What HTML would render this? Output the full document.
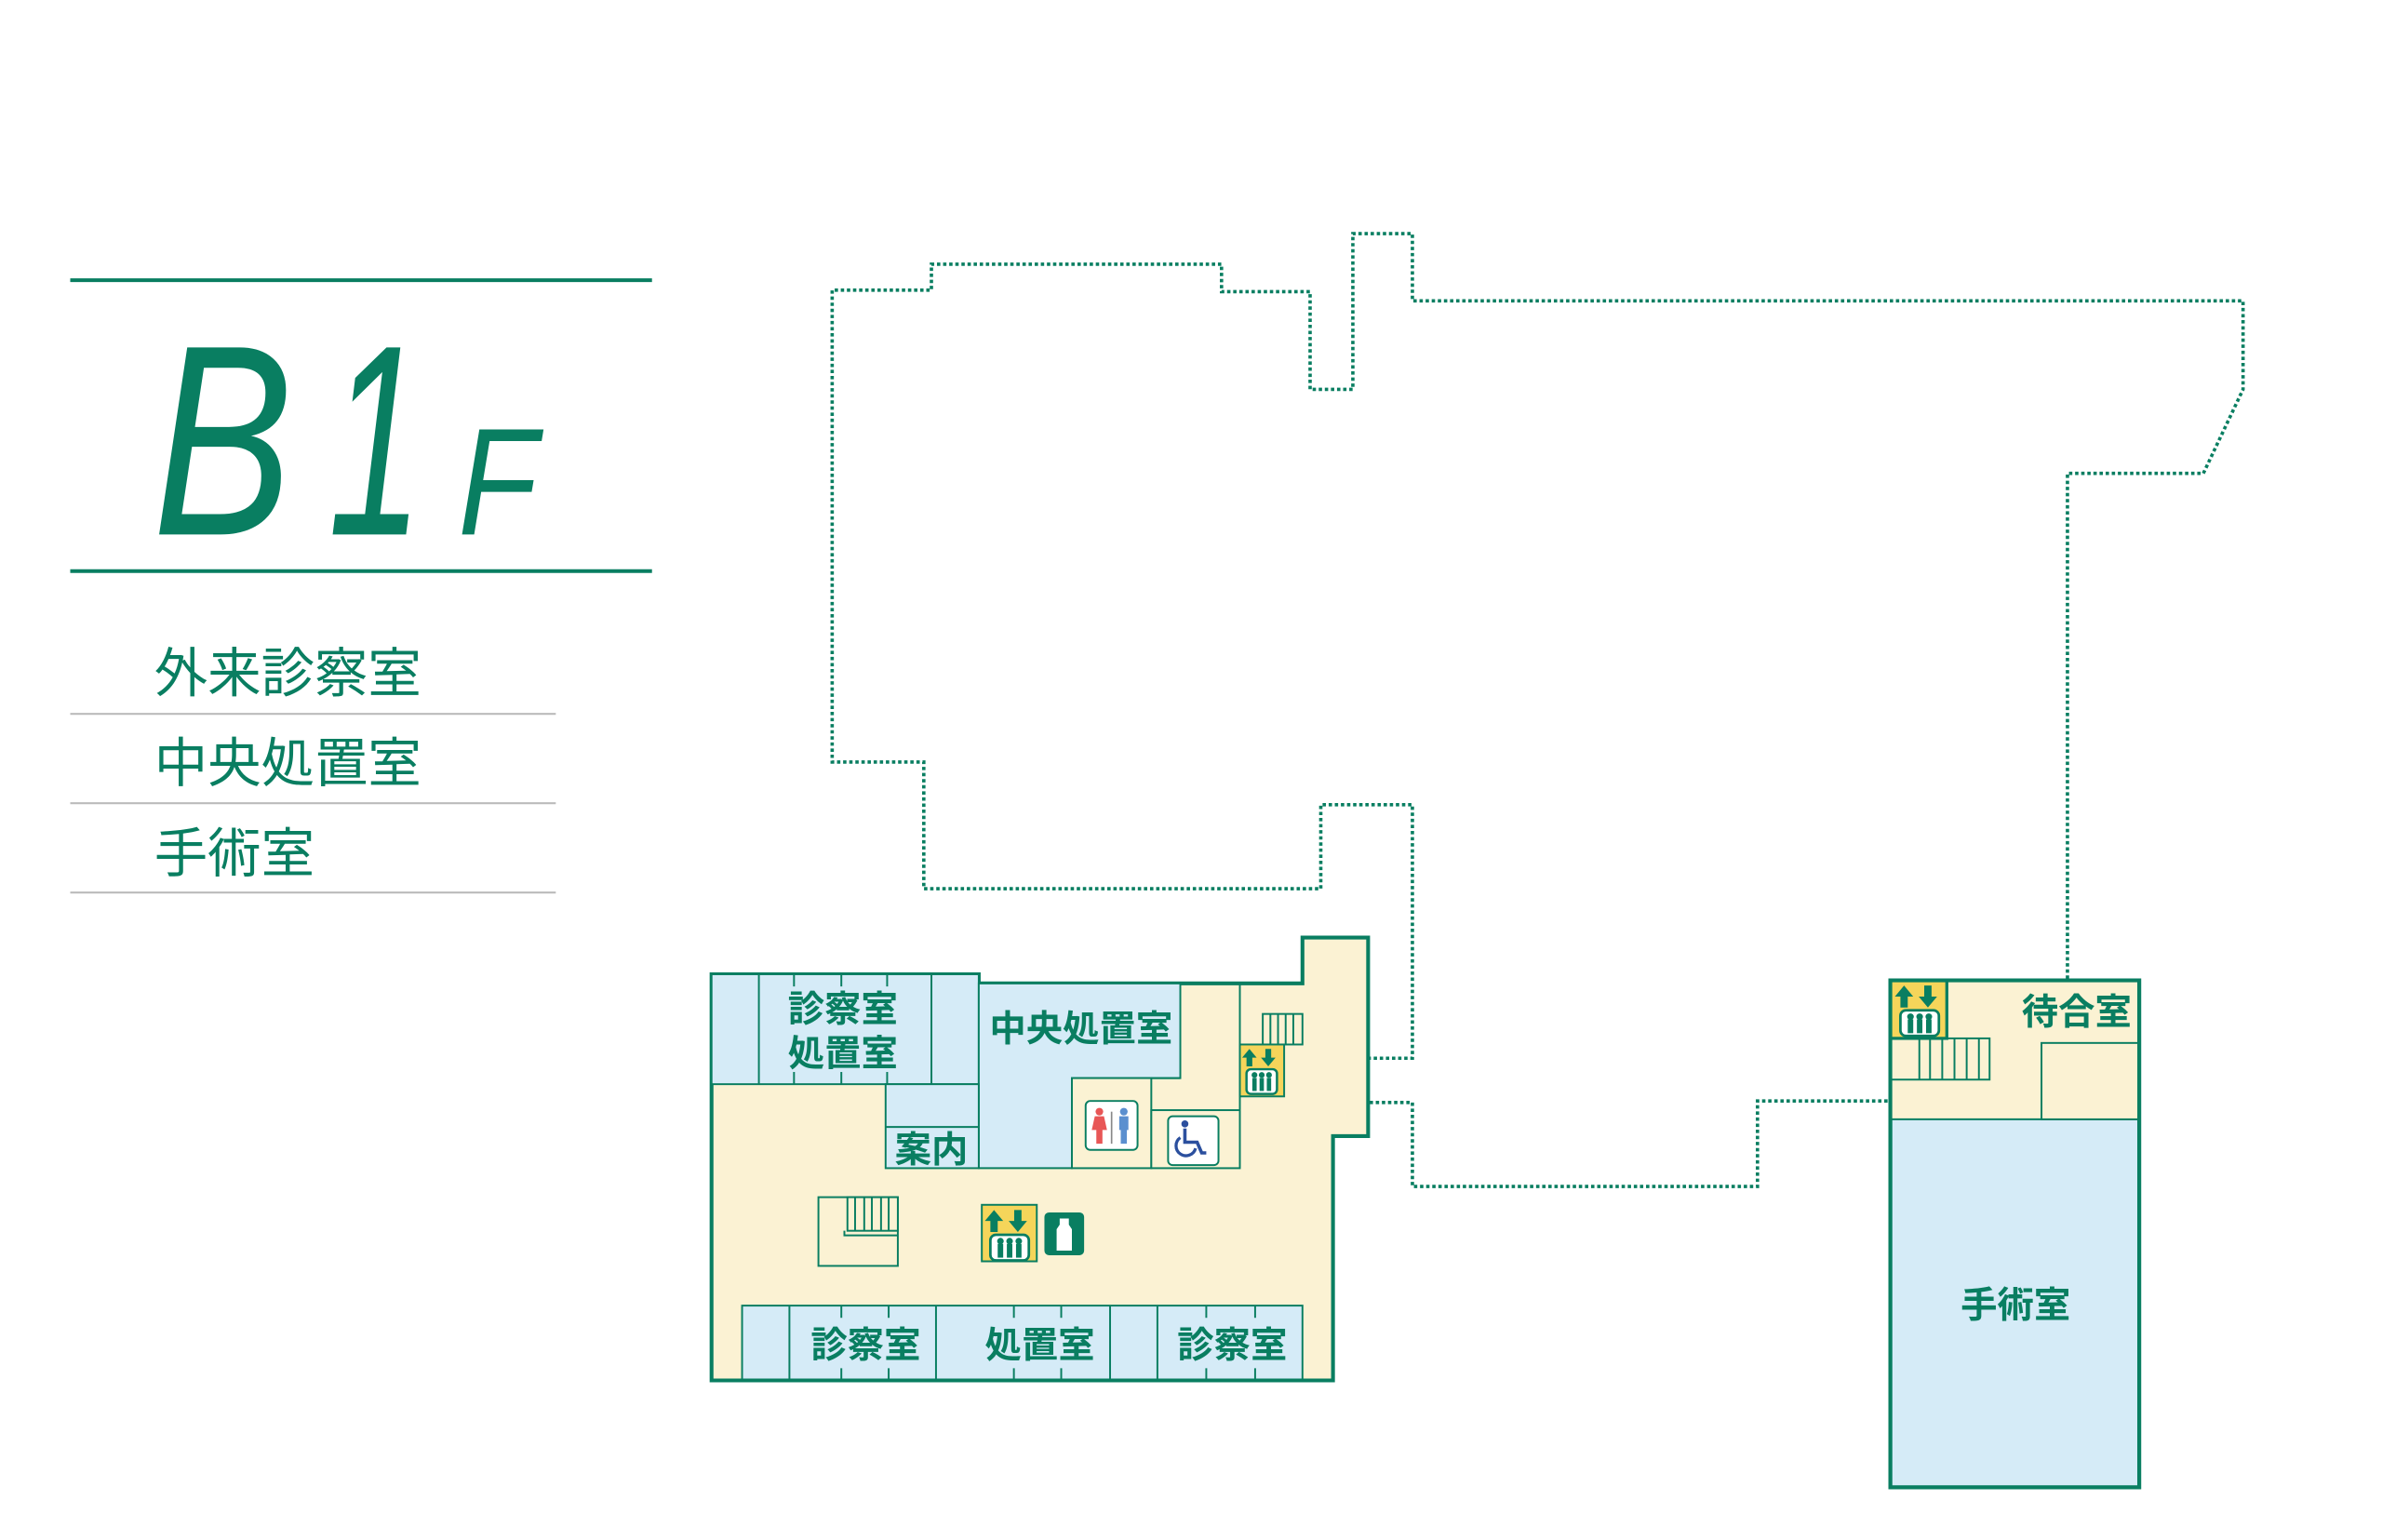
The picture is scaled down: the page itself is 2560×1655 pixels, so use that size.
<!DOCTYPE html>
<html><head><meta charset="utf-8"><style>
html,body{margin:0;padding:0;background:#fff;}
svg{display:block;}
</style></head><body>
<svg width="2560" height="1655" viewBox="0 0 1560 1008.5" preserveAspectRatio="none" xmlns="http://www.w3.org/2000/svg">
<g font-family="'Liberation Sans','Noto Sans CJK JP',sans-serif">
<!-- left panel -->
<line x1="46" y1="183.5" x2="427" y2="183.5" stroke="#097e61" stroke-width="2.5"/>
<line x1="46" y1="374" x2="427" y2="374" stroke="#097e61" stroke-width="2.5"/>
<text x="100" y="350" font-size="178" font-style="italic" fill="#097e61" textLength="92" lengthAdjust="spacingAndGlyphs">B</text>
<text x="215" y="350" font-size="178" font-style="italic" fill="#097e61" textLength="62" lengthAdjust="spacingAndGlyphs">1</text>
<text x="300" y="350" font-size="100" font-style="italic" fill="#097e61" textLength="52" lengthAdjust="spacingAndGlyphs">F</text>
<g font-size="35" fill="#097e61">
<text x="101" y="453">外来診察室</text>
<text x="101" y="512">中央処置室</text>
<text x="101" y="571">手術室</text>
</g>
<g stroke="#bbb" stroke-width="1.3">
<line x1="46" y1="467.5" x2="364" y2="467.5"/>
<line x1="46" y1="526" x2="364" y2="526"/>
<line x1="46" y1="584.5" x2="364" y2="584.5"/>
</g>

<!-- dotted outline -->
<g fill="none" stroke="#097e61" stroke-width="2.2" stroke-dasharray="2.2 1.8">
<polyline points="1354,641 1354,310 1443,310 1469,255 1469,197 925,197 925,153 886,153 886,255 858,255 858,191 800,191 800,173 610,173 610,190 545,190 545,499 605,499 605,582 865,582 865,527 925,527 925,693 897,693"/>
<polyline points="897,722 925,722 925,777 1151,777 1151,721 1240,721 1240,708"/>
<line x1="1277" y1="648" x2="1354" y2="643"/>
</g>

<!-- left building -->
<g stroke="#097e61" stroke-width="1.2">
<polygon points="466,638 641,638 641,644 853,644 853,614 896,614 896,744 873,744 873,904 466,904" fill="#fbf2d3" stroke-width="2.5"/>
<rect x="466" y="638" width="175" height="72" fill="#d5ebf7"/>
<line x1="497" y1="638" x2="497" y2="710"/><line x1="610" y1="638" x2="610" y2="710"/>
<line x1="520" y1="638" x2="520" y2="646"/><line x1="551" y1="638" x2="551" y2="646"/><line x1="581" y1="638" x2="581" y2="646"/>
<line x1="520" y1="702" x2="520" y2="710"/><line x1="551" y1="702" x2="551" y2="710"/><line x1="581" y1="702" x2="581" y2="710"/>
<polygon points="641,644 773,644 773,706 702,706 702,765 641,765" fill="#d5ebf7"/>
<rect x="580" y="710" width="61" height="55" fill="#d5ebf7"/>
<line x1="580" y1="738" x2="641" y2="738"/>
<rect x="702" y="706" width="52" height="59" fill="#fbf2d3"/>
<rect x="754" y="727" width="58" height="38" fill="#fbf2d3"/>
<line x1="754" y1="706" x2="773" y2="706"/>
<line x1="812" y1="644" x2="812" y2="727"/>
<line x1="812" y1="644" x2="853" y2="644"/>
<rect x="827" y="664" width="26" height="20" fill="#fbf2d3"/>
<line x1="832" y1="664" x2="832" y2="684"/><line x1="837" y1="664" x2="837" y2="684"/><line x1="842" y1="664" x2="842" y2="684"/><line x1="847" y1="664" x2="847" y2="684"/>
<rect x="812" y="684" width="29" height="34" fill="#f5d55a"/>
<!-- big stairs -->
<rect x="536" y="784" width="52" height="45" fill="#fbf2d3"/>
<rect x="555" y="784" width="33" height="22" fill="#fbf2d3"/>
<line x1="560" y1="784" x2="560" y2="806"/><line x1="566" y1="784" x2="566" y2="806"/><line x1="571" y1="784" x2="571" y2="806"/><line x1="577" y1="784" x2="577" y2="806"/><line x1="582" y1="784" x2="582" y2="806"/>
<polyline points="553,806 553,809 588,809" fill="none"/>
<rect x="643" y="789" width="36" height="37" fill="#f5d55a"/>
<!-- bottom strip -->
<rect x="486" y="855" width="367" height="49" fill="#d5ebf7"/>
<line x1="517" y1="855" x2="517" y2="904"/><line x1="613" y1="855" x2="613" y2="904"/><line x1="727" y1="855" x2="727" y2="904"/><line x1="758" y1="855" x2="758" y2="904"/>
<line x1="551" y1="855" x2="551" y2="863"/><line x1="582" y1="855" x2="582" y2="863"/><line x1="664" y1="855" x2="664" y2="863"/><line x1="695" y1="855" x2="695" y2="863"/><line x1="790" y1="855" x2="790" y2="863"/><line x1="822" y1="855" x2="822" y2="863"/>
<line x1="551" y1="896" x2="551" y2="904"/><line x1="582" y1="896" x2="582" y2="904"/><line x1="664" y1="896" x2="664" y2="904"/><line x1="695" y1="896" x2="695" y2="904"/><line x1="790" y1="896" x2="790" y2="904"/><line x1="822" y1="896" x2="822" y2="904"/>
<line x1="466" y1="904" x2="873" y2="904" stroke-width="2.5"/>
</g>
<!-- elevator icons -->
<g fill="#097e61" stroke="none">
<g transform="translate(813.5,685) scale(0.95)">
<path d="M5 2 L10 8 H7 V14 H3 V8 H0 Z"/><path d="M18 14 L23 8 H20 V2 H16 V8 H13 Z"/>
<rect x="3" y="16" width="21" height="17" rx="3" fill="#fff" stroke="#097e61" stroke-width="1.6"/>
<circle cx="8.5" cy="20" r="2"/><circle cx="13.5" cy="20" r="2"/><circle cx="18.5" cy="20" r="2"/>
<rect x="7" y="22" width="3" height="9"/><rect x="12" y="22" width="3" height="9"/><rect x="17" y="22" width="3" height="9"/>
</g>
<g transform="translate(645,790) scale(1.2)">
<path d="M5 2 L10 8 H7 V14 H3 V8 H0 Z"/><path d="M18 14 L23 8 H20 V2 H16 V8 H13 Z"/>
<rect x="3" y="15.5" width="21" height="14" rx="3" fill="#fff" stroke="#097e61" stroke-width="1.4"/>
<circle cx="8.5" cy="19" r="1.8"/><circle cx="13.5" cy="19" r="1.8"/><circle cx="18.5" cy="19" r="1.8"/>
<rect x="7" y="20.5" width="3" height="7.5"/><rect x="12" y="20.5" width="3" height="7.5"/><rect x="17" y="20.5" width="3" height="7.5"/>
</g>
<rect x="684" y="794" width="26" height="28" rx="3"/>
<path d="M694 798 h6 v4 l2 3 v14 h-10 v-14 l2 -3 z" fill="#fff"/>
</g>
<!-- toilet -->
<rect x="711" y="721" width="34" height="32" rx="3" fill="#fff" stroke="#097e61" stroke-width="1.2"/>
<circle cx="720" cy="728" r="2.5" fill="#e85656"/>
<path d="M717 731 h6 l2 9 h-3 v9 h-4 v-9 h-3 z" fill="#e85656"/>
<line x1="728" y1="728" x2="728" y2="749" stroke="#888" stroke-width="1"/>
<circle cx="736" cy="728" r="2.5" fill="#5b8fcf"/>
<path d="M733 731 h6 v9 h-1 v9 h-4 v-9 h-1 z" fill="#5b8fcf"/>
<!-- wheelchair -->
<rect x="765" y="731" width="33" height="32" rx="3" fill="#fff" stroke="#097e61" stroke-width="1.2"/>
<circle cx="776" cy="736" r="2.3" fill="#2b4f9e"/>
<path d="M776 739 v9 h8 l3 7 h3" fill="none" stroke="#2b4f9e" stroke-width="2.2"/>
<path d="M773 745 a6.5 6.5 0 1 0 10 7" fill="none" stroke="#2b4f9e" stroke-width="2"/>

<!-- right building -->
<g stroke="#097e61" stroke-width="1.2">
<rect x="1238" y="642" width="163" height="332" fill="#d5ebf7" stroke-width="2.5"/>
<rect x="1239.2" y="643.2" width="160.6" height="90" fill="#fbf2d3" stroke="none"/>
<line x1="1238" y1="733" x2="1401" y2="733"/>
<rect x="1337" y="683" width="64" height="50" fill="#fbf2d3"/>
<rect x="1238" y="680" width="65" height="27" fill="#fbf2d3"/>
<line x1="1257" y1="680" x2="1257" y2="707"/><line x1="1264" y1="680" x2="1264" y2="707"/><line x1="1272" y1="680" x2="1272" y2="707"/><line x1="1280" y1="680" x2="1280" y2="707"/><line x1="1288" y1="680" x2="1288" y2="707"/><line x1="1296" y1="680" x2="1296" y2="707"/>
<rect x="1238" y="642" width="37" height="38" fill="#f5d55a" stroke-width="2"/>
<rect x="1238" y="642" width="163" height="332" fill="none" stroke-width="2.5"/>
</g>
<g fill="#097e61" transform="translate(1241,643) scale(1.2)">
<path d="M5 2 L10 8 H7 V14 H3 V8 H0 Z"/><path d="M18 14 L23 8 H20 V2 H16 V8 H13 Z"/>
<rect x="3" y="15.5" width="21" height="14" rx="3" fill="#fff" stroke="#097e61" stroke-width="1.4"/>
<circle cx="8.5" cy="19" r="1.8"/><circle cx="13.5" cy="19" r="1.8"/><circle cx="18.5" cy="19" r="1.8"/>
<rect x="7" y="20.5" width="3" height="7.5"/><rect x="12" y="20.5" width="3" height="7.5"/><rect x="17" y="20.5" width="3" height="7.5"/>
</g>

<!-- room labels -->
<g font-family="'Liberation Sans','Noto Sans CJK JP',sans-serif" font-weight="bold" font-size="24" fill="#097e61" text-anchor="middle">
<text x="552" y="669">診察室</text>
<text x="552" y="698">処置室</text>
<text x="708" y="682">中央処置室</text>
<text x="610" y="761">案内</text>
<text x="567" y="889">診察室</text>
<text x="681" y="889">処置室</text>
<text x="807" y="889">診察室</text>
<text x="1360" y="671">待合室</text>
<text x="1320" y="863">手術室</text>
</g>
</g>
</svg>
</body></html>
